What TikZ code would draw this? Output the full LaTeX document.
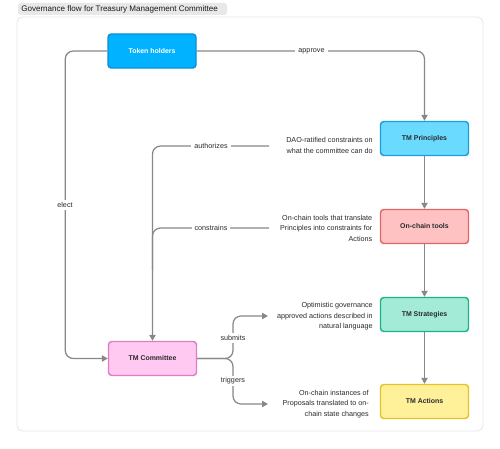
\documentclass[tikz,border=0pt]{standalone}
\usepackage{fontspec}
\setmainfont{Liberation Sans}
\usetikzlibrary{arrows.meta}
\definecolor{lineg}{HTML}{888888}
\definecolor{txt}{HTML}{2A2A2A}
\definecolor{thfill}{HTML}{00B2FF}
\definecolor{thdraw}{HTML}{0A90D8}
\definecolor{tpfill}{HTML}{6ADBFF}
\definecolor{tpdraw}{HTML}{1C9BE0}
\definecolor{otfill}{HTML}{FFC2C2}
\definecolor{otdraw}{HTML}{E06666}
\definecolor{tsfill}{HTML}{A3EBD6}
\definecolor{tsdraw}{HTML}{1DB38A}
\definecolor{tafill}{HTML}{FFF09A}
\definecolor{tadraw}{HTML}{E6C229}
\definecolor{tcfill}{HTML}{FFC9F2}
\definecolor{tcdraw}{HTML}{E07CC4}
\definecolor{panel}{HTML}{E6E6E6}
\definecolor{titlebg}{HTML}{E8E8E8}
\begin{document}
\begin{tikzpicture}[x=0.75pt,y=-0.75pt,
  box/.style={draw, rounded corners=2.5pt, line width=1.1pt, minimum width=66pt, minimum height=25.5pt,
    font=\fontsize{5.2}{6.2}\selectfont\bfseries, text=txt, inner sep=0pt},
  conn/.style={draw=lineg, line width=0.95pt, rounded corners=6pt},
  arr/.style={-{Triangle[length=4.5pt,width=4.8pt]}},
  lbl/.style={fill=white, font=\fontsize{5.4}{6.5}\selectfont, text=txt, inner xsep=2.3pt, inner ysep=1.5pt},
  desc/.style={align=right, font=\fontsize{5.4}{7.9}\selectfont, text=txt, anchor=east, inner sep=0pt}]
\useasboundingbox (0,0) rectangle (500,449);
\fill[white] (0,0) rectangle (500,449);
% panel
\draw[draw=panel, fill=white, line width=0.6pt, rounded corners=4pt] (17,17) rectangle (483,431);
% title
\fill[titlebg, rounded corners=2pt] (18,3) rectangle (227,15);
\node[anchor=west, inner xsep=0pt, inner ysep=0pt,
  font=\fontsize{6.05}{7}\selectfont, text=black!90] (title) at (21,9) {Governance flow for Treasury Management Committee};
% boxes
\node[box, fill=thfill, draw=thdraw, text=white] (th) at (152,51) {Token holders};
\node[box, fill=tpfill, draw=tpdraw] (tp) at (424.5,138.5) {TM Principles};
\node[box, fill=otfill, draw=otdraw] (ot) at (424.5,226.5) {On-chain tools};
\node[box, fill=tsfill, draw=tsdraw] (ts) at (424.5,314.5) {TM Strategies};
\node[box, fill=tafill, draw=tadraw] (ta) at (424.5,401.5) {TM Actions};
\node[box, fill=tcfill, draw=tcdraw] (tc) at (152.5,358.5) {TM Committee};
% descriptions
\node[desc] (dtp) at (373,145.5) {DAO-ratified constraints on\\what the committee can do};
\node[desc] (dot) at (372.5,228) {On-chain tools that translate\\Principles into constraints for\\Actions};
\node[desc] (dts) at (373,316.5) {Optimistic governance\\approved actions described in\\natural language};
\node[desc] (dta) at (369,404) {On-chain instances of\\Proposals translated to on-\\chain state changes};
% free ends
\coordinate (auth) at (269,146);
\coordinate (cons) at (269,228);
\coordinate (sub) at (268,316);
\coordinate (trig) at (268,404);
\coordinate (junc) at (233,358.5);
% connectors
\draw[conn, arr] (th.east) -| (tp.north);
\draw[conn, arr] (th.west) -- ++(-42,0) |- (tc.west);
\draw[conn, arr] (auth) -| (tc.north);
\draw[conn] (cons) -| (152.5,270);
\draw[conn, arr] (tc.east) -- (junc) |- (sub);
\draw[conn, arr] (tc.east) -- (junc) |- (trig);
\draw[conn, arr] (tp.south) -- (ot.north);
\draw[conn, arr] (ot.south) -- (ts.north);
\draw[conn, arr] (ts.south) -- (ta.north);
% labels
\node[lbl] (lap) at (311.5,51) {approve};
\node[lbl] (lel) at (65,205) {elect};
\node[lbl] (lau) at (211,146) {authorizes};
\node[lbl] (lco) at (211,228) {constrains};
\node[lbl] (lsu) at (233,338) {submits};
\node[lbl] (ltr) at (233,381) {triggers};
\end{tikzpicture}
\end{document}
